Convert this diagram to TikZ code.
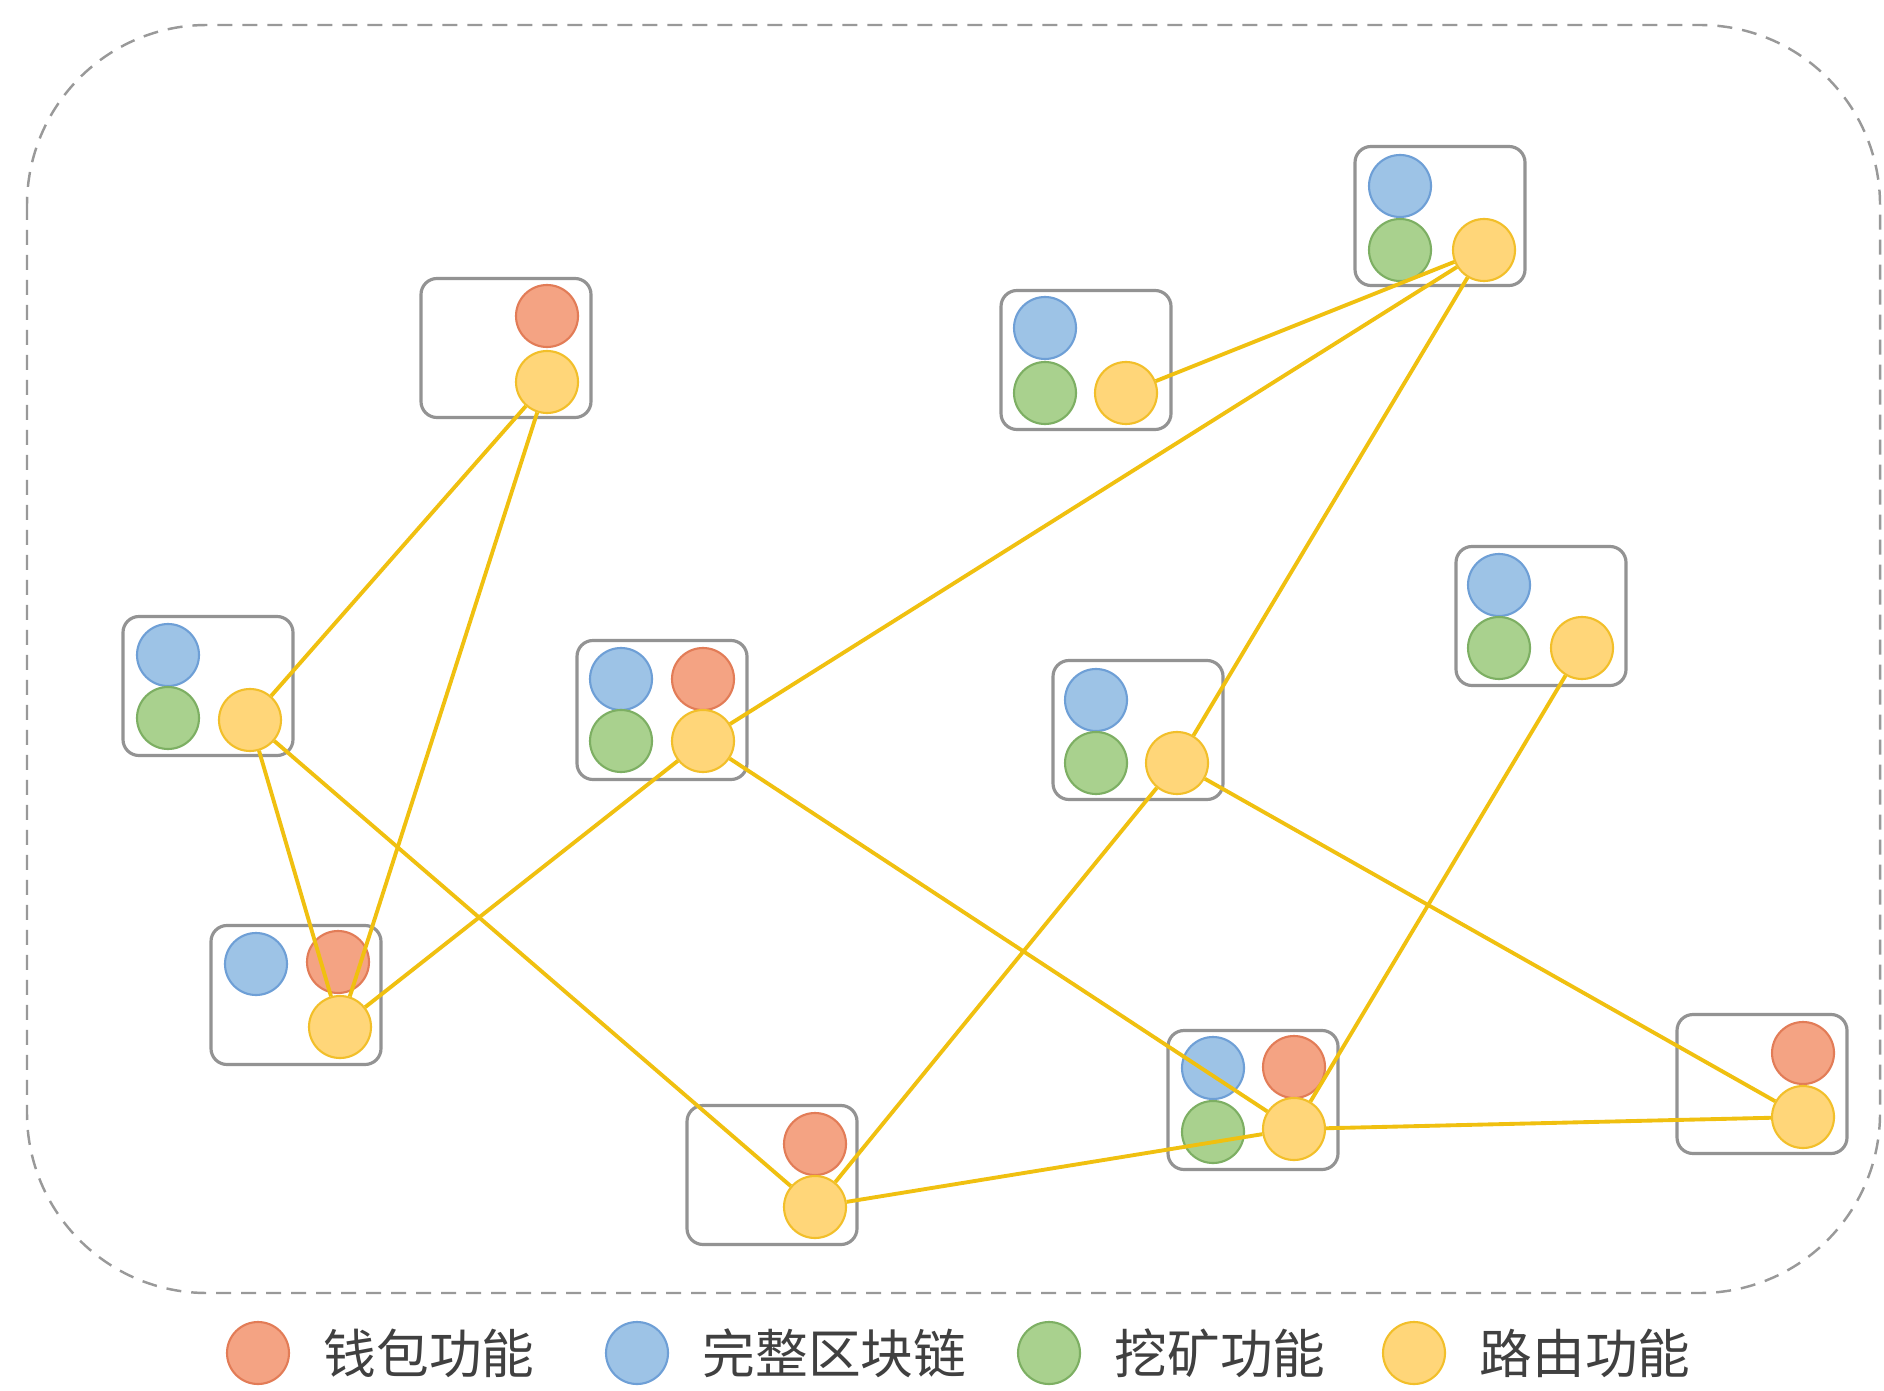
\documentclass[tikz,border=0pt]{standalone}
\usepackage{fontspec}
\newfontfamily\cjk{Noto Sans CJK SC}
\usetikzlibrary{positioning}

\definecolor{redfill}{HTML}{F4A383}
\definecolor{redline}{HTML}{E27C57}
\definecolor{bluefill}{HTML}{9DC3E6}
\definecolor{blueline}{HTML}{6E9FD6}
\definecolor{greenfill}{HTML}{A9D18E}
\definecolor{greenline}{HTML}{7DAF63}
\definecolor{yelfill}{HTML}{FFD679}
\definecolor{yelline}{HTML}{F2BF2A}
\definecolor{linkcol}{HTML}{F0C010}

\begin{document}
\begin{tikzpicture}[x=0.1mm, y=-0.1mm,
    box/.style={draw=gray!85, line width=0.9pt, rounded corners=1.6mm, fill=white,
        minimum width=17mm, minimum height=13.9mm, inner sep=0pt},
    dot/.style={circle, minimum size=6.2mm, inner sep=0pt, line width=0.6pt},
    red/.style={dot, fill=redfill, draw=redline},
    blu/.style={dot, fill=bluefill, draw=blueline},
    grn/.style={dot, fill=greenfill, draw=greenline},
    yel/.style={dot, fill=yelfill, draw=yelline},
    link/.style={draw=linkcol, line width=1.1pt},
    legtext/.style={inner sep=0pt, text=black!75, font=\cjk\fontsize{15pt}{15pt}\selectfont}]

    \useasboundingbox (0,0) rectangle (1884,1391);

    % Frame
    \draw[gray!80, line width=0.7pt, dash pattern=on 1.5mm off 1mm, rounded corners=18mm]
        (27,25) rectangle (1880,1293);

    % Boxes
    \node[box] (A) at (506,348) {};
    \node[box] (B) at (208,686) {};
    \node[box] (C) at (296,995) {};
    \node[box] (D) at (662,710) {};
    \node[box] (E) at (772,1175) {};
    \node[box] (F) at (1086,360) {};
    \node[box] (G) at (1440,216) {};
    \node[box] (H) at (1138,730) {};
    \node[box] (I) at (1541,616) {};
    \node[box] (J) at (1253,1100) {};
    \node[box] (K) at (1762,1084) {};

    % Nodes
    \node[red] (Ar) at (547,316) {};
    \node[yel] (Ay) at (547,382) {};

    \node[blu] (Bb) at (168,655) {};
    \node[grn] (Bg) at (168,718) {};
    \node[yel] (By) at (250,720) {};

    \node[blu] (Cb) at (256,964) {};
    \node[red] (Cr) at (338,962) {};
    \node[yel] (Cy) at (340,1027) {};

    \node[blu] (Db) at (621,679) {};
    \node[red] (Dr) at (703,679) {};
    \node[grn] (Dg) at (621,741) {};
    \node[yel] (Dy) at (703,741) {};

    \node[red] (Er) at (815,1144) {};
    \node[yel] (Ey) at (815,1207) {};

    \node[blu] (Fb) at (1045,328) {};
    \node[grn] (Fg) at (1045,393) {};
    \node[yel] (Fy) at (1126,393) {};

    \node[blu] (Gb) at (1400,186) {};
    \node[grn] (Gg) at (1400,250) {};
    \node[yel] (Gy) at (1484,250) {};

    \node[blu] (Hb) at (1096,700) {};
    \node[grn] (Hg) at (1096,763) {};
    \node[yel] (Hy) at (1177,763) {};

    \node[blu] (Ib) at (1499,585) {};
    \node[grn] (Ig) at (1499,648) {};
    \node[yel] (Iy) at (1582,648) {};

    \node[blu] (Jb) at (1213,1068) {};
    \node[red] (Jr) at (1294,1067) {};
    \node[grn] (Jg) at (1213,1132) {};
    \node[yel] (Jy) at (1294,1129) {};

    \node[red] (Kr) at (1803,1053) {};
    \node[yel] (Ky) at (1803,1117) {};

    % Lines
    \draw[link] (Ay) -- (By);
    \draw[link] (Ay) -- (Cy);
    \draw[link] (By) -- (Cy);
    \draw[link] (By) -- (Ey);
    \draw[link] (Cy) -- (Dy);
    \draw[link] (Dy) -- (Gy);
    \draw[link] (Dy) -- (Jy);
    \draw[link] (Fy) -- (Gy);
    \draw[link] (Gy) -- (Hy);
    \draw[link] (Hy) -- (Ey);
    \draw[link] (Hy) -- (Ky);
    \draw[link] (Iy) -- (Jy);
    \draw[link] (Ey) -- (Jy);
    \draw[link] (Jy) -- (Ky);

    % Legend
    \node[red] (lr) at (258,1353) {};
    \node[legtext, right=3.3mm of lr] (lrt) {钱包功能};
    \node[blu] (lb) at (637,1353) {};
    \node[legtext, right=3.3mm of lb] (lbt) {完整区块链};
    \node[grn] (lg) at (1049,1353) {};
    \node[legtext, right=3.3mm of lg] (lgt) {挖矿功能};
    \node[yel] (ly) at (1414,1353) {};
    \node[legtext, right=3.3mm of ly] (lyt) {路由功能};

\end{tikzpicture}
\end{document}
